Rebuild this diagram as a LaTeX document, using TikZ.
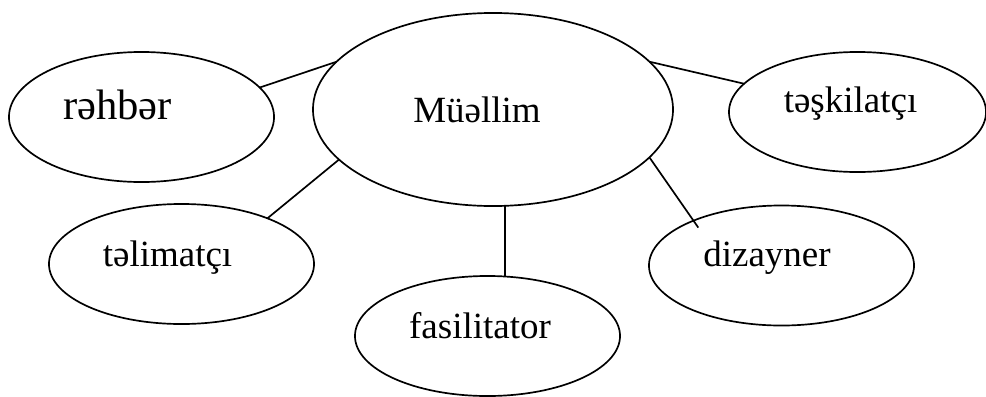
\documentclass[tikz,border=0pt]{standalone}
\usepackage{fontspec}
\setmainfont{Liberation Serif}
\usetikzlibrary{shapes.geometric}

\begin{document}
\begin{tikzpicture}
      [
        x=0.025cm, y=-0.025cm,
        line width=1.2pt,
        Bubble/.style={draw, ellipse, minimum width=6.625cm, minimum height=3cm, inner sep=0pt, outer sep=0pt},
        Word/.style={anchor=base, inner sep=0pt, font=\fontsize{26.3}{30}\selectfont},
      ]
      \useasboundingbox (0,0) rectangle (986,396);

      % ellipses
      \node [Bubble, minimum width=9cm, minimum height=4.825cm] (m) at (493,109.5) {};
      \node [Bubble, minimum height=3.25cm] (r) at (141.5,117) {};
      \node [Bubble, minimum width=6.425cm] (t) at (857.5,112) {};
      \node [Bubble] (l) at (181.5,264) {};
      \node [Bubble] (f) at (487.5,336) {};
      \node [Bubble] (d) at (781.5,265.5) {};

      % texts
      \node [Word] (mt) at (477,122) {Müəllim};
      \node [Word, font=\fontsize{30.3}{34}\selectfont] (rt) at (117.5,119) {rəhbər};
      \node [Word] (tt) at (850.5,112) {təşkilatçı};
      \node [Word] (lt) at (167.5,266) {təlimatçı};
      \node [Word] (ft) at (480,338) {fasilitator};
      \node [Word] (dt) at (767,266) {dizayner};

      \draw (r.14) -- (m.163);
      \draw (m.17) -- (t.166);
      \draw (m.198) -- (l.28);
      \draw (m.277) -- (m.277 |- f.north);
      \draw [shorten >=-6pt] (m.343) -- (d.153);
    \end{tikzpicture}
\end{document}
